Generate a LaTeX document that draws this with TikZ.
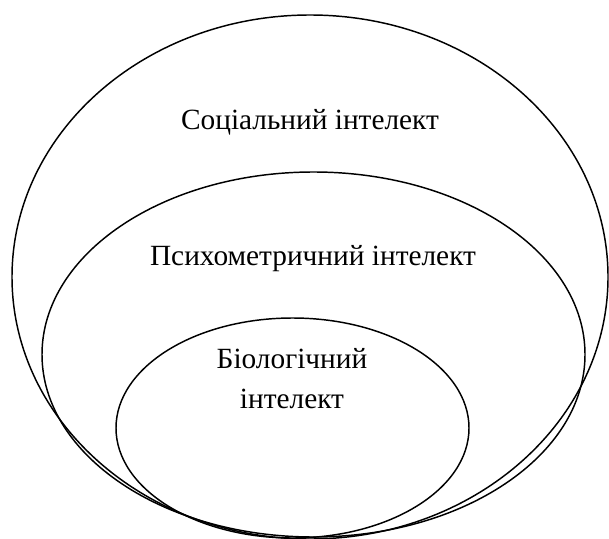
\documentclass[tikz,border=0pt]{standalone}
\usepackage{fontspec}
\setmainfont{Liberation Serif}
\usepackage{tikz}

\begin{document}
\begin{tikzpicture}[x=0.75pt,y=-0.75pt]
    \tikzstyle{oval} = [line width=1.1pt,draw=black]
    \tikzstyle{label}=[
      anchor=base,
      inner sep=0pt,
      font=\fontsize{22}{30}\selectfont,
    ]
    
    \useasboundingbox (0,0) rectangle (609,538);
    
    \draw[oval] (310,277) ellipse [x radius=298, y radius=262];
    \draw[oval] (313.5,354.5) ellipse [x radius=271.5, y radius=182.5];
    \draw[oval] (292.5,428) ellipse [x radius=176.5, y radius=110];
    
    \node[label] (social) at (310,130) {Соціальний інтелект};
    \node[label] (psycho) at (313,265) {Психометричний інтелект};
    \node[label] (bio) at (292,368) {Біологічний};
    \node[label] (bioint) at (292,408) {інтелект};
  \end{tikzpicture}
\end{document}
